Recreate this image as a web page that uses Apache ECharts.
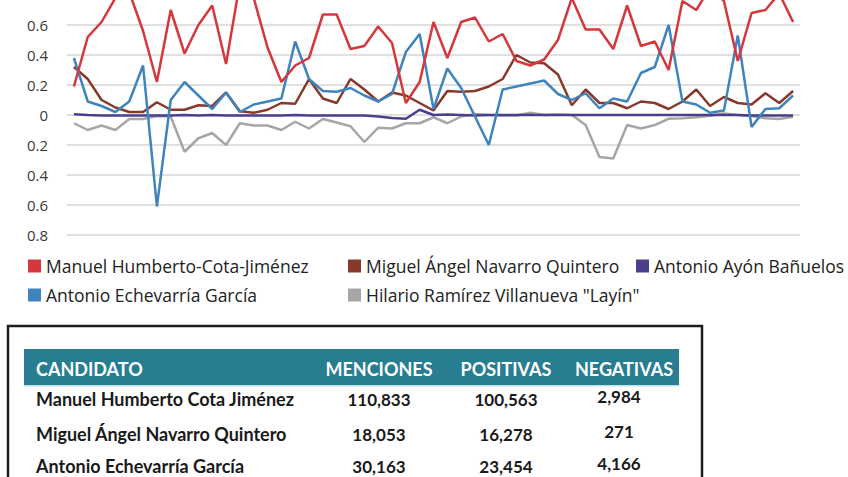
<!DOCTYPE html>
<html>
<head>
<meta charset="utf-8">
<script src="https://cdn.jsdelivr.net/npm/echarts@6/dist/echarts.min.js"></script>
<style>
  html, body { margin: 0; padding: 0; background: #ffffff; overflow: hidden; }
  body { width: 848px; height: 477px; position: relative; }
  /* el grafico original queda cortado arriba: la linea de 0.8 cae fuera */
  #main { position: absolute; left: 0; top: -5px; width: 848px; height: 482px; }
</style>
</head>
<body>
<div id="main"></div>
<script>
// dias del periodo (sin etiqueta visible en el eje)
const dias = [
  "1", "2", "3", "4", "5", "6", "7", "8", "9", "10",
  "11", "12", "13", "14", "15", "16", "17", "18", "19", "20",
  "21", "22", "23", "24", "25", "26", "27", "28", "29", "30",
  "31", "32", "33", "34", "35", "36", "37", "38", "39", "40",
  "41", "42", "43", "44", "45", "46", "47", "48", "49", "50",
  "51", "52", "53"
];

const cota = [
  0.19, 0.52, 0.62, 0.78, 0.82, 0.56, 0.22, 0.70, 0.41, 0.60,
  0.73, 0.34, 0.88, 0.78, 0.45, 0.22, 0.33, 0.38, 0.67, 0.67,
  0.44, 0.46, 0.59, 0.48, 0.08, 0.22, 0.62, 0.38, 0.62, 0.65,
  0.49, 0.54, 0.36, 0.33, 0.37, 0.50, 0.78, 0.57, 0.57, 0.44,
  0.73, 0.46, 0.49, 0.30, 0.76, 0.70, 0.85, 0.76, 0.36, 0.68,
  0.70, 0.81, 0.62
];
const navarro = [
  0.32, 0.24, 0.10, 0.05, 0.02, 0.02, 0.085, 0.035, 0.035, 0.065,
  0.06, 0.15, 0.025, 0.015, 0.035, 0.08, 0.075, 0.24, 0.11, 0.08,
  0.24, 0.17, 0.09, 0.15, 0.13, 0.08, 0.03, 0.16, 0.155, 0.16,
  0.19, 0.24, 0.40, 0.35, 0.345, 0.27, 0.065, 0.17, 0.08, 0.08,
  0.045, 0.09, 0.08, 0.04, 0.09, 0.17, 0.06, 0.12, 0.08, 0.07,
  0.145, 0.08, 0.16
];
const ayon = [
  0.005, 0, -0.003, -0.003, -0.003, -0.003, -0.003, -0.003, 0, -0.003,
  0, -0.003, -0.003, -0.003, -0.003, -0.003, 0, -0.003, -0.003, -0.003,
  -0.003, -0.003, -0.01, -0.02, -0.025, 0.035, 0, 0.003, 0, -0.003,
  0, 0, 0, 0, 0, 0, 0, 0, 0, 0,
  0, 0, 0, 0, 0, 0, 0, 0, 0, -0.004,
  -0.004, -0.004, -0.004
];
const echevarria = [
  0.38, 0.09, 0.06, 0.02, 0.09, 0.33, -0.61, 0.10, 0.22, 0.13,
  0.04, 0.15, 0.02, 0.07, 0.09, 0.11, 0.49, 0.24, 0.16, 0.155,
  0.18, 0.13, 0.09, 0.14, 0.42, 0.54, 0.04, 0.31, 0.18, -0.01,
  -0.20, 0.17, 0.19, 0.21, 0.23, 0.14, 0.10, 0.145, 0.045, 0.11,
  0.09, 0.28, 0.32, 0.60, 0.09, 0.07, 0.015, 0.03, 0.53, -0.08,
  0.04, 0.045, 0.13
];
const layin = [
  -0.055, -0.10, -0.07, -0.10, -0.027, -0.027, -0.007, -0.01, -0.245, -0.155,
  -0.12, -0.20, -0.055, -0.07, -0.07, -0.10, -0.045, -0.09, -0.027, -0.05,
  -0.075, -0.18, -0.085, -0.09, -0.055, -0.055, -0.015, -0.055, -0.01, 0.007,
  0, -0.003, -0.003, 0.015, 0, 0.003, 0, -0.067, -0.28, -0.29,
  -0.067, -0.09, -0.067, -0.025, -0.022, -0.015, -0.005, 0.01, 0, -0.007,
  -0.022, -0.027, -0.012
];

// tabla
const encabezados = ["CANDIDATO", "MENCIONES", "POSITIVAS", "NEGATIVAS"];
const candidatos = [
  "Manuel Humberto Cota Jiménez",
  "Miguel Ángel Navarro Quintero",
  "Antonio Echevarría García"
];
const menciones = ["110,833", "18,053", "30,163"];
const positivas = ["100,563", "16,278", "23,454"];
const negativas = ["2,984", "271", "4,166"];

const nombres = {
  cota: "Manuel Humberto-Cota-Jiménez",
  navarro: "Miguel Ángel Navarro Quintero",
  ayon: "Antonio Ayón Bañuelos",
  echevarria: "Antonio Echevarría García",
  layin: "Hilario Ramírez Villanueva \"Layín\""
};

const chart = echarts.init(document.getElementById("main"), null, { renderer: "svg" });

const dy = 5; // desplazamiento del contenedor

const legendBase = {
  orient: "vertical",
  top: 257 + dy,
  padding: 0,
  icon: "rect",
  itemWidth: 13,
  itemHeight: 13,
  itemGap: 11,
  selectedMode: false,
  textStyle: { fontFamily: "Open Sans", fontSize: 17.5, color: "#222" }
};

const lineSerie = (name, data, color) => ({
  name: name,
  type: "line",
  data: data,
  symbol: "none",
  lineStyle: { width: 2.5, color: color },
  itemStyle: { color: color }
});

// tabla con elementos graficos
const colX = [36, 379, 506, 622];
const filaY = [399, 434, 466];
const tabla = [
  {
    type: "rect",
    shape: { x: 8, y: 326 + dy, width: 694, height: 200 },
    style: { fill: "none", stroke: "#1e1e1e", lineWidth: 2.5 }
  },
  {
    type: "rect",
    shape: { x: 24, y: 349 + dy, width: 655, height: 36 },
    style: { fill: "#287d91" }
  },
  {
    type: "rect",
    shape: { x: 24, y: 385 + dy, width: 655, height: 1.5 },
    style: { fill: "#bfe4ec" }
  }
];
encabezados.forEach((h, i) => {
  tabla.push({
    type: "text",
    style: {
      text: h,
      x: i === 3 ? 624 : colX[i],
      y: 369 + dy,
      fill: "#ffffff",
      font: "bold 18px Lato",
      textAlign: i === 0 ? "left" : "center",
      textVerticalAlign: "middle"
    }
  });
});
candidatos.forEach((c, r) => {
  const celdas = [c, menciones[r], positivas[r], negativas[r]];
  celdas.forEach((t, i) => {
    tabla.push({
      type: "text",
      style: {
        text: t,
        x: i === 3 ? 619 : colX[i],
        y: (i === 3 ? filaY[r] - 3 : filaY[r]) + dy,
        fill: "#1a1a1a",
        font: i === 0 ? "bold 18px Lato" : "bold 17px Lato",
        textAlign: i === 0 ? "left" : "center",
        textVerticalAlign: "middle"
      }
    });
  });
});

chart.setOption({
  animation: false,
  backgroundColor: "#ffffff",
  grid: { left: 67, right: 48, top: 0, bottom: 242 },
  legend: [
    Object.assign({}, legendBase, { left: 28, data: [nombres.cota, nombres.echevarria] }),
    Object.assign({}, legendBase, { left: 348, data: [nombres.navarro, nombres.layin] }),
    Object.assign({}, legendBase, { left: 636, data: [nombres.ayon] })
  ],
  xAxis: {
    type: "category",
    data: dias,
    boundaryGap: true,
    axisLine: { show: false },
    axisTick: { show: false },
    axisLabel: { show: false }
  },
  yAxis: {
    type: "value",
    min: -0.8,
    max: 0.8,
    interval: 0.2,
    axisLine: { show: false },
    axisTick: { show: false },
    splitLine: { lineStyle: { color: "#d6d6d6", width: 1.5 } },
    axisLabel: {
      margin: 19,
      showMaxLabel: false,
      color: "#3a3a3a",
      fontFamily: "Open Sans",
      fontSize: 15,
      formatter: v => {
        const a = Math.abs(Math.round(v * 10) / 10);
        return a === 0 ? "0" : a.toFixed(1);
      }
    }
  },
  series: [
    lineSerie(nombres.layin, layin, "#a6a6a6"),
    lineSerie(nombres.ayon, ayon, "#4a3f8c"),
    lineSerie(nombres.navarro, navarro, "#87392a"),
    lineSerie(nombres.echevarria, echevarria, "#3f84be"),
    lineSerie(nombres.cota, cota, "#d5373d")
  ],
  graphic: { elements: tabla }
});
</script>
</body>
</html>
